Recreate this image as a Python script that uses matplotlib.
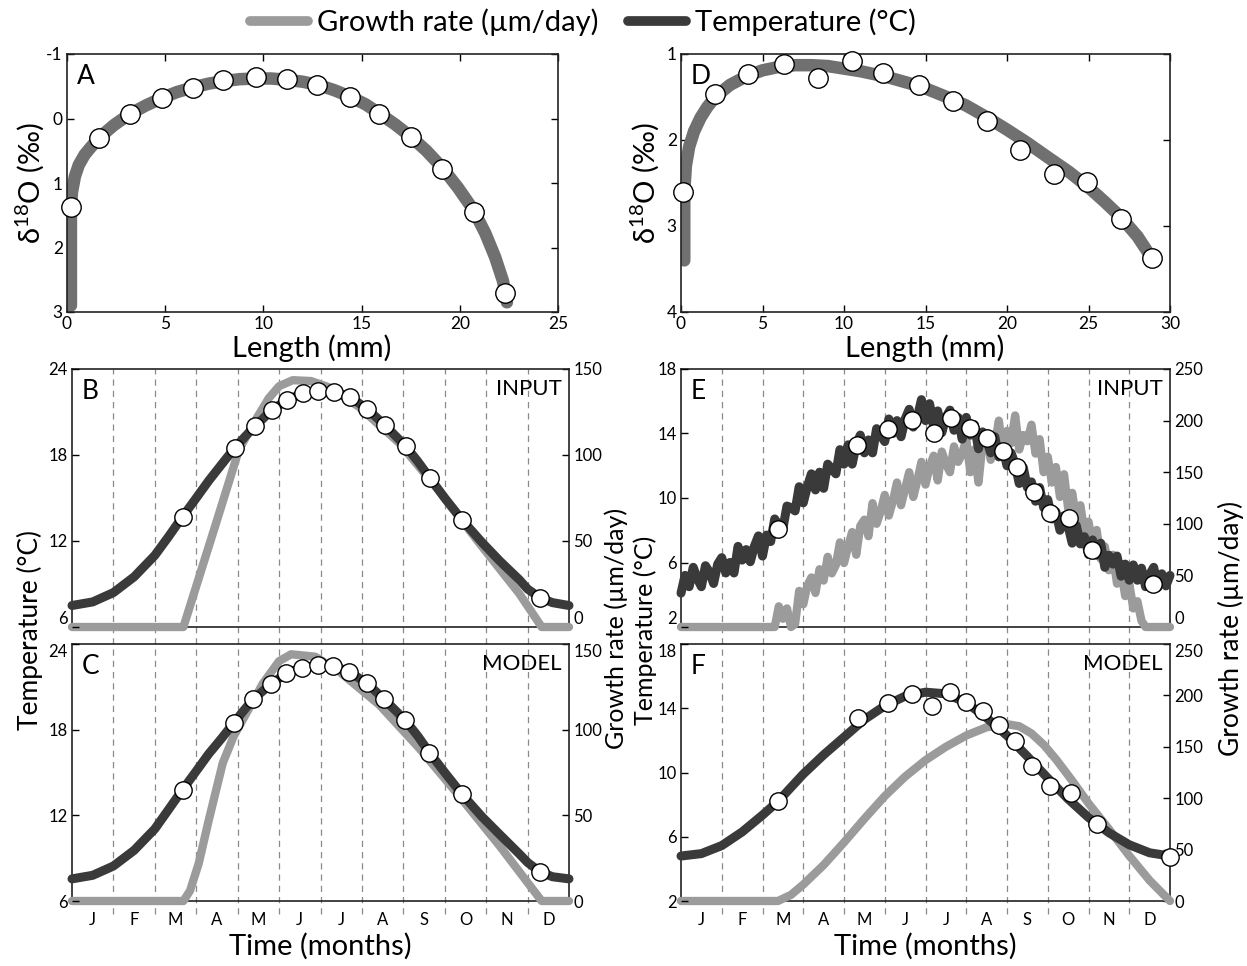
import matplotlib
matplotlib.use("Agg")
import matplotlib.pyplot as plt
from matplotlib.lines import Line2D
import numpy as np

plt.rcParams['font.family'] = ['Lato', 'DejaVu Sans']
plt.rcParams['mathtext.fontset'] = 'custom'
plt.rcParams['mathtext.rm'] = 'Lato'
plt.rcParams['mathtext.it'] = 'Lato:italic'
plt.rcParams['axes.unicode_minus'] = False

# ---- data ----
# panel A (d18O profile vs length)
a_line_x = [0.2, 0.2, 0.25, 0.4, 0.6, 0.9, 1.2, 1.63, 2.4, 3.2, 4.0, 4.85, 5.6, 6.4, 7.2, 8.0, 8.8, 9.6, 10.4,
            11.2, 12.0, 12.8, 13.6, 14.4, 15.2, 15.9, 16.7, 17.5, 18.3, 19.1, 19.9, 20.7, 21.3, 21.8, 22.2, 22.4]
a_line_y = [2.9, 1.4, 1.15, 0.9, 0.72, 0.56, 0.45, 0.30, 0.1, -0.07, -0.2, -0.32, -0.41, -0.48, -0.54, -0.58, -0.61,
            -0.62, -0.62, -0.60, -0.57, -0.52, -0.44, -0.34, -0.22, -0.08, 0.09, 0.28, 0.5, 0.76, 1.07, 1.42, 1.78,
            2.15, 2.52, 2.85]
a_pts_x = [0.2, 1.63, 3.2, 4.85, 6.4, 7.96, 9.6, 11.2, 12.75, 14.4, 15.9, 17.5, 19.1, 20.7, 22.3]
a_pts_y = [1.37, 0.30, -0.07, -0.32, -0.47, -0.60, -0.64, -0.61, -0.52, -0.33, -0.07, 0.29, 0.78, 1.45, 2.71]

# panel D
d_line_x = [0.2, 0.2, 0.3, 0.5, 0.8, 1.2, 1.6, 2.1, 3.0, 4.0, 5.0, 6.0, 7.0, 8.0, 9.0, 10.0, 11.0, 12.5, 14.0, 15.0,
            16.3, 17.5, 18.8, 20.0, 21.3, 22.5, 23.8, 25.0, 26.0, 27.0, 28.0, 28.8]
d_line_y = [3.4, 2.6, 2.3, 2.08, 1.9, 1.74, 1.62, 1.5, 1.36, 1.26, 1.19, 1.15, 1.13, 1.13, 1.14, 1.17, 1.2, 1.26,
            1.34, 1.4, 1.5, 1.6, 1.74, 1.88, 2.04, 2.2, 2.37, 2.55, 2.72, 2.9, 3.12, 3.35]
d_pts_x = [0.12, 2.1, 4.1, 6.3, 8.4, 10.5, 12.4, 14.6, 16.7, 18.8, 20.8, 22.9, 24.9, 27.0, 28.9]
d_pts_y = [2.60, 1.47, 1.23, 1.12, 1.28, 1.08, 1.22, 1.36, 1.55, 1.78, 2.12, 2.40, 2.49, 2.92, 3.37]

months = ['J', 'F', 'M', 'A', 'M', 'J', 'J', 'A', 'S', 'O', 'N', 'D']

# panel B (input)
b_temp_x = [0, 0.5, 1.0, 1.5, 2.0, 2.33, 2.67, 3.0, 3.3, 3.6, 3.93, 4.2, 4.42, 4.83, 5.19, 5.58, 5.95, 6.32, 6.72,
            7.13, 7.55, 8.06, 8.35, 8.64, 9.0, 9.41, 9.9, 10.33, 10.8, 11.0, 11.3, 11.6, 12]
b_temp = [7.5, 7.75, 8.4, 9.5, 11.0, 12.3, 13.7, 15.0, 16.2, 17.3, 18.5, 19.35, 20.0, 21.15, 21.85, 22.3, 22.45,
          22.4, 22.05, 21.2, 20.1, 18.6, 17.55, 16.4, 15.0, 13.5, 11.9, 10.6, 9.3, 8.65, 8.05, 7.7, 7.5]
b_grow_x = [0, 2.69, 3.5, 4.03, 4.4, 4.75, 5.0, 5.33, 5.77, 6.25, 6.93, 7.9, 8.87, 9.84, 10.8, 11.34, 12]
b_grow = [0, 0, 62, 103, 119, 133, 140, 143.5, 143, 139, 128, 107, 79, 48.6, 19.4, 0, 0]
b_pts_x = [2.67, 3.93, 4.42, 4.83, 5.19, 5.58, 5.95, 6.32, 6.72, 7.13, 7.55, 8.06, 8.64, 9.41, 11.3]
b_pts_t = [13.7, 18.5, 20.05, 21.15, 21.85, 22.3, 22.45, 22.4, 22.05, 21.2, 20.1, 18.6, 16.4, 13.45, 8.0]

# panel C (model)
c_temp_x = [0, 0.5, 1.0, 1.5, 2.0, 2.33, 2.67, 3.0, 3.3, 3.6, 3.9, 4.15, 4.38, 4.81, 5.17, 5.55, 5.94, 6.31, 6.7,
            7.12, 7.53, 8.05, 8.35, 8.63, 9.0, 9.41, 9.9, 10.33, 10.8, 11.0, 11.3, 11.6, 12]
c_temp = [7.55, 7.8, 8.45, 9.55, 11.05, 12.4, 13.8, 15.1, 16.3, 17.35, 18.45, 19.35, 20.15, 21.2, 21.95, 22.35,
          22.5, 22.45, 22.05, 21.25, 20.15, 18.65, 17.55, 16.4, 15.0, 13.5, 11.9, 10.65, 9.3, 8.7, 8.05, 7.7, 7.55]
c_grow_x = [0, 2.69, 2.85, 3.06, 3.3, 3.64, 3.9, 4.22, 4.61, 5.0, 5.29, 5.87, 6.45, 7.42, 8.39, 9.36, 10.33, 11.34, 12]
c_grow = [0, 0, 6, 22, 47, 80.5, 96, 110, 127, 140, 144, 142.6, 134, 114.5, 89, 61, 32, 0, 0]
c_pts_x = [2.67, 3.9, 4.38, 4.81, 5.17, 5.55, 5.94, 6.31, 6.7, 7.12, 7.53, 8.05, 8.63, 9.41, 11.3]
c_pts_t = [13.8, 18.45, 20.15, 21.2, 21.95, 22.35, 22.5, 22.45, 22.05, 21.25, 20.15, 18.65, 16.4, 13.5, 8.0]

# panel E (input, noisy record, read every 0.1 month from Jan 1 to Dec 31)
e_temp = [4.1, 5.2, 4.5, 5.7, 5.0, 4.5, 5.8, 5.4, 4.7, 5.9,
          6.3, 5.35, 6.0, 5.35, 7.0, 6.15, 6.8, 6.05, 7.0, 7.65,
          6.4, 7.7, 7.3, 8.7, 8.3, 8.1, 9.5, 9.4, 9.2, 10.7,
          9.7, 10.7, 11.5, 10.5, 11.6, 10.6, 12.1, 11.8, 11.5, 13.0,
          12.1, 13.3, 12.1, 13.3, 13.9, 12.8, 13.6, 12.8, 14.3, 13.9,
          13.5, 14.9, 14.0, 14.8, 13.8, 14.9, 15.5, 14.4, 15.0, 16.1,
          14.8, 15.85, 14.4, 15.4, 14.05, 15.0, 15.45, 14.2, 15.0, 13.65,
          15.0, 13.9, 14.55, 13.05, 14.1, 13.6, 12.8, 13.8, 12.55, 13.1,
          12.0, 12.8, 12.1, 10.9, 11.9, 10.65, 11.0, 9.8, 10.65, 9.4,
          9.9, 8.7, 9.15, 8.0, 8.9, 8.25, 7.2, 8.3, 7.15, 7.6,
          6.5, 7.4, 6.45, 7.2, 5.7, 6.45, 5.9, 6.4, 5.15, 5.9,
          4.9, 5.85, 4.9, 5.65, 4.5, 5.25, 5.7, 4.45, 5.3, 4.55,
          5.2]
e_grow = [0, 0, 0, 0, 0, 0, 0, 0, 0, 0,
          0, 0, 0, 0, 0, 0, 0, 0, 0, 0,
          0, 0, 0, 0, 20, 8, 18, 0, 3, 35,
          22, 40, 48, 33, 56, 45, 68, 52, 60, 82,
          62, 78, 92, 70, 98, 104, 88, 120, 100, 112,
          128, 108, 122, 140, 118, 134, 150, 126, 142, 160,
          138, 155, 166, 142, 170, 158, 150, 175, 160, 168,
          182, 150, 172, 140, 178, 188, 162, 176, 200, 168,
          190, 178, 205, 172, 186, 180, 196, 168, 182, 150,
          165, 140, 155, 126, 148, 115, 130, 104, 118, 92,
          102, 80, 94, 66, 78, 55, 70, 42, 55, 30,
          42, 18, 25, 6, 0, 0, 0, 0, 0, 0,
          0]
e_pts_x = [2.38, 4.33, 5.07, 5.68, 6.21, 6.63, 7.08, 7.5, 7.89, 8.24, 8.67, 9.06, 9.51, 10.09, 11.58]
e_pts_t = [8.1, 13.3, 14.3, 14.85, 14.05, 14.95, 14.35, 13.75, 12.9, 11.95, 10.4, 9.1, 8.75, 6.75, 4.65]

# panel F (model)
f_temp_x = [0, 0.5, 1, 1.5, 2, 2.38, 3, 3.5, 4, 4.5, 5, 5.5, 6, 6.5, 7, 7.5, 8, 8.5, 9, 9.5, 10, 10.5, 11, 11.5, 12]
f_temp = [4.8, 4.95, 5.45, 6.3, 7.35, 8.2, 9.9, 11.1, 12.2, 13.3, 14.15, 14.75, 15.0, 14.9, 14.35, 13.4, 12.3,
          11.0, 9.65, 8.35, 7.2, 6.25, 5.5, 5.0, 4.8]
f_grow_x = [0, 2.38, 2.7, 3, 3.5, 4, 4.5, 5, 5.5, 6, 6.5, 7, 7.5, 8, 8.3, 8.6, 8.9, 9.2, 9.6, 10, 10.5, 11, 11.5, 12]
f_grow = [0, 0, 6, 16, 35, 57, 80, 102, 121, 137, 150, 161, 169, 172, 170, 163, 152, 138, 117, 95, 70, 44, 20, 0]
f_pts_x = [2.38, 4.35, 5.09, 5.66, 6.17, 6.59, 7.0, 7.41, 7.8, 8.2, 8.62, 9.06, 9.57, 10.22, 12.0]
f_pts_t = [8.2, 13.4, 14.3, 14.9, 14.15, 15.0, 14.4, 13.85, 12.95, 11.95, 10.4, 9.15, 8.75, 6.8, 4.75]

# ---- styles ----
DARK = '#3a3a3a'
LIGHT = '#9b9b9b'
MID = '#707070'
W, H = 1247, 966
TICK = 12

fig = plt.figure(figsize=(W / 100, H / 100), dpi=100)


def add_ax(l, r, t, b):
    return fig.add_axes([l / W, 1 - b / H, (r - l) / W, (b - t) / H])


def style_spines(ax):
    for s in ax.spines.values():
        s.set_linewidth(1.2)
        s.set_color('#222222')


def profile_panel(ax, lx, ly, px, py, xmax, ylim, yticks, letter):
    ax.plot(lx, ly, color=MID, lw=9, solid_capstyle='round', solid_joinstyle='round', zorder=2)
    ax.plot(px, py, 'o', ms=14, mfc='white', mec='black', mew=1.0, zorder=3, clip_on=False)
    ax.set_xlim(0, xmax)
    ax.set_xticks(np.arange(0, xmax + 1, 5))
    ax.set_ylim(*ylim)
    ax.set_yticks(yticks)
    ax.tick_params(direction='in', top=True, right=True, length=5, width=1, labelsize=TICK + 0.5, pad=3)
    style_spines(ax)
    ax.text(0.02, 0.96, letter, transform=ax.transAxes, fontsize=19, va='top', ha='left')


def season_panel(ax, tx, ty, gx, gy, ptx, pty, tlim, tticks, glim, gticks, letter, tag, bottom, dash_ext):
    ax_g = ax.twinx()
    ax.set_zorder(ax_g.get_zorder() + 1)
    ax.patch.set_visible(False)
    for s in ax.spines.values():
        s.set_visible(False)
    style_spines(ax_g)
    for m in range(1, 12):
        ax_g.axvline(m, ymin=-dash_ext, ymax=1, color='#8a8a8a', lw=0.9, ls=(0, (5, 4)), clip_on=False, zorder=1)
    ax_g.plot(gx, gy, color=LIGHT, lw=6, solid_capstyle='round', solid_joinstyle='round', zorder=3, clip_on=False)
    ax.plot(tx, ty, color=DARK, lw=6.5, solid_capstyle='round', solid_joinstyle='round', zorder=2, clip_on=False)
    ax.plot(ptx, pty, 'o', ms=12.5, mfc='white', mec='black', mew=1.0, zorder=4, clip_on=False)
    ax.set_xlim(0, 12)
    ax_g.set_xlim(0, 12)
    ax.set_ylim(*tlim)
    ax.set_yticks(tticks)
    ax_g.set_ylim(*glim)
    ax_g.set_yticks(gticks)
    ax.tick_params(axis='y', direction='in', length=5, width=1, labelsize=TICK, pad=3)
    ax_g.tick_params(axis='y', direction='in', length=5, width=1, labelsize=TICK, pad=3)
    ax_g.tick_params(axis='x', length=0, labelbottom=False)
    # keep the stacked end labels of the two rows apart, as in the source figure
    if bottom:
        ax.get_yticklabels()[-1].set_va('top')
        ax_g.get_yticklabels()[-1].set_va('top')
        ax.set_xticks(np.arange(12) + 0.5)
        ax.set_xticklabels(months)
        ax.tick_params(axis='x', length=0, labelsize=TICK, pad=8)
    else:
        ax.get_yticklabels()[0].set_va('bottom')
        ax_g.get_yticklabels()[0].set_va('bottom')
        ax.set_xticks([])
    ax.text(0.02, 0.96, letter, transform=ax.transAxes, fontsize=19, va='top', ha='left')
    ax.text(0.985, 0.96, tag, transform=ax.transAxes, fontsize=16, va='top', ha='right')


axA = add_ax(67, 558, 54, 312)
profile_panel(axA, a_line_x, a_line_y, a_pts_x, a_pts_y, 25, (3, -1), [-1, 0, 1, 2, 3], 'A')
axD = add_ax(681, 1170, 54, 312)
profile_panel(axD, d_line_x, d_line_y, d_pts_x, d_pts_y, 30, (4, 1), [1, 2, 3, 4], 'D')

e_x = np.linspace(0, 12, len(e_temp))
eg_x = np.linspace(0, 12, len(e_grow))

axB = add_ax(72, 569, 369, 627)
season_panel(axB, b_temp_x, b_temp, b_grow_x, b_grow, b_pts_x, b_pts_t, (6, 24), [6, 12, 18, 24],
             (0, 150), [0, 50, 100, 150], 'B', 'INPUT', False, 0.066)
axC = add_ax(72, 569, 644, 901)
season_panel(axC, c_temp_x, c_temp, c_grow_x, c_grow, c_pts_x, c_pts_t, (6, 24), [6, 12, 18, 24],
             (0, 150), [0, 50, 100, 150], 'C', 'MODEL', True, 0.05)
axE = add_ax(681, 1170, 369, 627)
season_panel(axE, e_x, e_temp, eg_x, e_grow, e_pts_x, e_pts_t, (2, 18), [2, 6, 10, 14, 18],
             (0, 250), [0, 50, 100, 150, 200, 250], 'E', 'INPUT', False, 0.066)
axF = add_ax(681, 1170, 644, 901)
season_panel(axF, f_temp_x, f_temp, f_grow_x, f_grow, f_pts_x, f_pts_t, (2, 18), [2, 6, 10, 14, 18],
             (0, 250), [0, 50, 100, 150, 200, 250], 'F', 'MODEL', True, 0.05)

# axis titles
lab = 21
side = 18
fig.text(312 / W, 1 - 348 / H, 'Length (mm)', ha='center', va='center', fontsize=lab)
fig.text(925 / W, 1 - 348 / H, 'Length (mm)', ha='center', va='center', fontsize=lab)
fig.text(320 / W, 1 - 946 / H, 'Time (months)', ha='center', va='center', fontsize=lab)
fig.text(925 / W, 1 - 946 / H, 'Time (months)', ha='center', va='center', fontsize=lab)
fig.text(30 / W, 1 - 183 / H, r'δ$^{18}$O (‰)', ha='center', va='center', rotation=90, fontsize=lab)
fig.text(645 / W, 1 - 183 / H, r'δ$^{18}$O (‰)', ha='center', va='center', rotation=90, fontsize=lab)
fig.text(30 / W, 1 - 630 / H, 'Temperature (°C)', ha='center', va='center', rotation=90, fontsize=side + 1)
fig.text(645 / W, 1 - 630 / H, 'Temperature (°C)', ha='center', va='center', rotation=90, fontsize=side)
fig.text(616 / W, 1 - 628 / H, 'Growth rate (µm/day)', ha='center', va='center', rotation=90, fontsize=side)
fig.text(1231 / W, 1 - 628 / H, 'Growth rate (µm/day)', ha='center', va='center', rotation=90, fontsize=side + 1)

# legend
handles = [Line2D([], [], color=LIGHT, lw=7, solid_capstyle='round'),
           Line2D([], [], color=DARK, lw=7, solid_capstyle='round')]
fig.legend(handles, ['Growth rate (µm/day)', 'Temperature (°C)'], loc='center',
           bbox_to_anchor=(583 / W, 1 - 22 / H), ncol=2, frameon=False, fontsize=21,
           handlelength=2.0, handletextpad=0.3, columnspacing=1.0)

fig.savefig('out.png', dpi=100)
